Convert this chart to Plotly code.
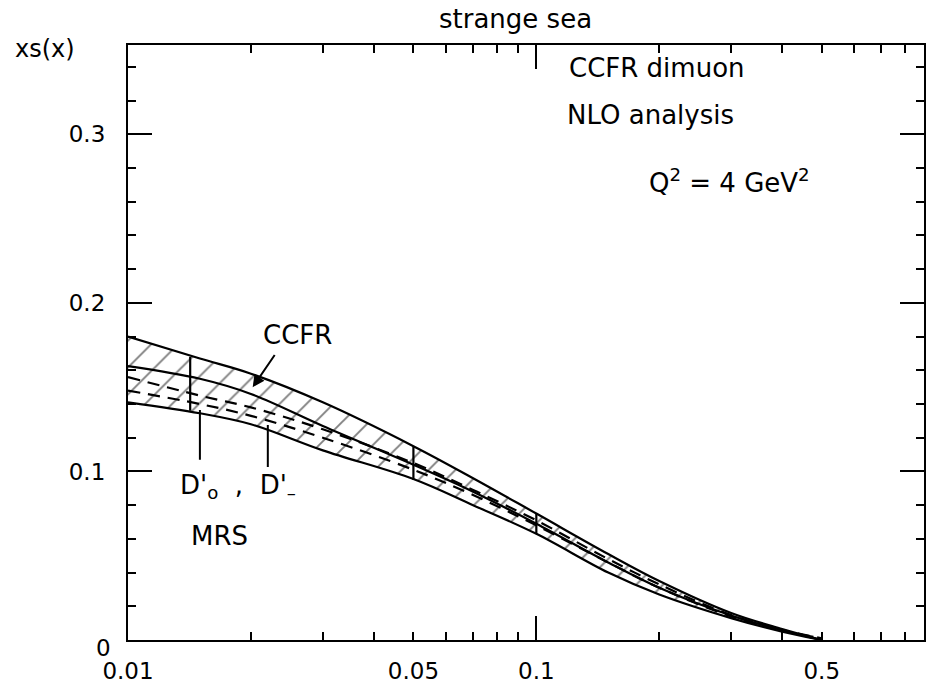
import plotly.graph_objects as go
import numpy as np

# ---- data ----
x_grid = [0.01, 0.015, 0.02, 0.03, 0.05, 0.07, 0.1, 0.15, 0.2, 0.3, 0.4, 0.5]
ccfr_upper = [0.180, 0.167, 0.158, 0.141, 0.115, 0.096, 0.075, 0.051, 0.035, 0.0160, 0.0065, 0.0]
ccfr_central = [0.1625, 0.155, 0.146, 0.127, 0.104, 0.088, 0.069, 0.046, 0.031, 0.0145, 0.0058, 0.0]
ccfr_lower = [0.141, 0.1345, 0.128, 0.1125, 0.0955, 0.080, 0.063, 0.040, 0.027, 0.0130, 0.0050, 0.0]
mrs_d0 = [0.156, 0.145, 0.138, 0.125, 0.105, 0.089, 0.071, 0.048, 0.033, 0.0148, 0.0060, 0.001]
mrs_dm = [0.148, 0.140, 0.133, 0.120, 0.101, 0.086, 0.068, 0.046, 0.031, 0.0140, 0.0055, 0.001]

bar_x = [0.0142, 0.05, 0.1]
bar_hi = [0.168, 0.115, 0.075]
bar_lo = [0.136, 0.095, 0.063]

x_tick_vals = [0.01, 0.05, 0.1, 0.5]
x_tick_text = ["0.01", "0.05", "0.1", "0.5"]
x_minor_vals = [0.02, 0.03, 0.04, 0.06, 0.07, 0.08, 0.09, 0.2, 0.3, 0.4, 0.6, 0.7, 0.8]
y_tick_vals = [0, 0.1, 0.2, 0.3]
y_tick_text = ["", "0.1", "0.2", "0.3"]
y_zero_label = "0"

FONT = "DejaVu Sans"
W, H = 928, 686
L, R, T, B = 128, 2, 45, 41
PW, PH = W - L - R, H - T - B

def px(xp):
    return (xp - L) / PW

def py(yp):
    return (H - B - yp) / PH

fig = go.Figure()

# hatched CCFR band
fig.add_trace(go.Scatter(x=x_grid, y=ccfr_lower, mode="lines",
                         line=dict(color="black", width=2.2, shape="spline"),
                         showlegend=False, hoverinfo="skip"))
fig.add_trace(go.Scatter(x=x_grid, y=ccfr_upper, mode="lines",
                         line=dict(color="black", width=2.2, shape="spline"),
                         fill="tonexty", fillcolor="white",
                         fillpattern=dict(shape="/", size=19, solidity=0.1,
                                          fgcolor="black", bgcolor="white"),
                         showlegend=False, hoverinfo="skip"))
fig.add_trace(go.Scatter(x=x_grid, y=ccfr_central, mode="lines",
                         line=dict(color="black", width=2.2, shape="spline"),
                         showlegend=False, hoverinfo="skip"))
# MRS dashed curves
for yy in (mrs_d0, mrs_dm):
    fig.add_trace(go.Scatter(x=x_grid, y=yy, mode="lines",
                             line=dict(color="black", width=2.2, dash="12px,8px", shape="spline"),
                             showlegend=False, hoverinfo="skip"))
# vertical band markers
for xb, hi, lo in zip(bar_x, bar_hi, bar_lo):
    fig.add_trace(go.Scatter(x=[xb, xb], y=[lo, hi], mode="lines",
                             line=dict(color="black", width=2.2),
                             showlegend=False, hoverinfo="skip"))

# dummy trace on overlay axis for long ticks
fig.add_trace(go.Scatter(x=[0.1], y=[0], xaxis="x2", mode="markers",
                         marker=dict(opacity=0), showlegend=False, hoverinfo="skip"))

xr = [np.log10(0.01), np.log10(0.89)]
yr = [0, 0.353]

fig.update_layout(
    width=W, height=H,
    margin=dict(l=L, r=R, t=T, b=B),
    paper_bgcolor="white", plot_bgcolor="white",
    font=dict(family=FONT, size=23, color="black"),
    xaxis=dict(type="log", range=xr, showgrid=False, zeroline=False,
               showline=True, linecolor="black", linewidth=2.2, mirror="ticks",
               ticks="inside", ticklen=8, tickwidth=2, tickcolor="black",
               tickmode="array", tickvals=x_tick_vals, ticktext=x_tick_text,
               tickfont=dict(family=FONT, size=23), ticklabelstandoff=9,
               minor=dict(ticks="inside", ticklen=8, tickwidth=2, tickcolor="black",
                          tickmode="array", tickvals=x_minor_vals)),
    xaxis2=dict(type="log", range=xr, overlaying="x", showgrid=False, zeroline=False,
                showline=False, mirror="ticks", ticks="inside", ticklen=24, tickwidth=2,
                tickcolor="black", tickmode="array", tickvals=[0.1], showticklabels=False),
    yaxis=dict(range=yr, showgrid=False, zeroline=False,
               showline=True, linecolor="black", linewidth=2.2, mirror="ticks",
               ticks="inside", ticklen=24, tickwidth=2, tickcolor="black",
               tickmode="array", tickvals=y_tick_vals, ticktext=y_tick_text,
               tickfont=dict(family=FONT, size=23), ticklabelstandoff=16,
               minor=dict(ticks="inside", ticklen=8, tickwidth=2, tickcolor="black",
                          dtick=0.02, tick0=0)),
)

def txt(s, xp, yp, size=26, xanchor="center"):
    fig.add_annotation(text=s, x=px(xp), y=py(yp), xref="paper", yref="paper",
                       showarrow=False, xanchor=xanchor, yanchor="middle",
                       font=dict(family=FONT, size=size, color="black"))

txt("strange sea", 516, 19)
txt("xs(x)", 45, 49, size=24)
txt(y_zero_label, 103, 653, size=23)
txt("CCFR dimuon", 658, 68)
txt("NLO analysis", 652, 116)
txt("Q<sup>2</sup> = 4 GeV<sup>2</sup>", 731, 182)
txt("CCFR", 298, 337)
txt("D'<sub>o</sub>  ,  D'<sub>–</sub>", 238, 490)
txt("MRS", 220, 540)

def pointer(x_head, y_head, x_tail, y_tail, head=0):
    fig.add_annotation(x=np.log10(x_head), y=y_head, xref="x", yref="y",
                       ax=np.log10(x_tail), ay=y_tail, axref="x", ayref="y",
                       showarrow=True, arrowhead=head, arrowsize=1.2, arrowwidth=2,
                       arrowcolor="black", text="")

pointer(0.0202, 0.150, 0.0230, 0.170, head=2)   # CCFR arrow
pointer(0.0150, 0.1365, 0.0150, 0.106)          # D'o pointer
pointer(0.0220, 0.1276, 0.0220, 0.1018)         # D'- pointer

fig.write_html("out.html")
